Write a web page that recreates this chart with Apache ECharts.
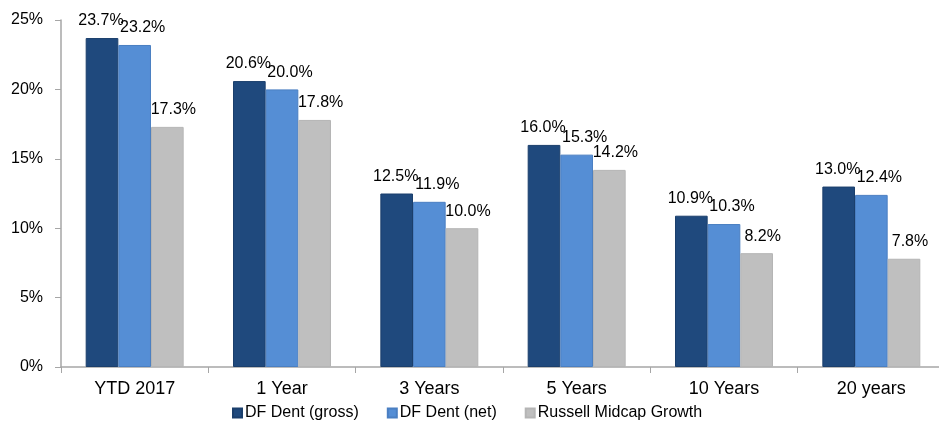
<!DOCTYPE html>
<html><head><meta charset="utf-8">
<script src="https://cdn.jsdelivr.net/npm/echarts@6/dist/echarts.min.js"></script>
<style>html,body{margin:0;padding:0;background:#fff}#c{width:939px;height:422px}</style>
</head><body><div id="c"></div>
<script>
const categories = ['YTD 2017', '1 Year', '3 Years', '5 Years', '10 Years', '20 years'];
const gross = [23.7, 20.6, 12.5, 16.0, 10.9, 13.0];
const net = [23.2, 20.0, 11.9, 15.3, 10.3, 12.4];
const russell = [17.3, 17.8, 10.0, 14.2, 8.2, 7.8];
const seriesNames = ['DF Dent (gross)', 'DF Dent (net)', 'Russell Midcap Growth'];
const yTicks = [0, 5, 10, 15, 20, 25];

const font = 'Liberation Sans, Arial, sans-serif';
const colors = ['#1F497D', '#558ED5', '#BFBFBF'];
const borders = ['#1B3F6C', '#4A7FC2', '#B5B5B5'];
const labelShift = [-1, 8, 6];
function mk(name, data, i) {
  return {
    name, type: 'bar', data, barGap: '0%', barCategoryGap: '33.5%',
    itemStyle: { color: colors[i], borderColor: borders[i], borderWidth: 1 },
    label: { show: true, position: 'top', distance: 9, offset: [labelShift[i], 0], color: '#000',
      fontFamily: font, fontSize: 16,
      formatter: p => p.value.toFixed(1) + '%' }
  };
}
const chart = echarts.init(document.getElementById('c'));
chart.setOption({
  animation: false,
  grid: { left: 61, width: 884, top: 20, bottom: 55, containLabel: false, outerBoundsMode: 'none' },
  legend: {
    left: 227, top: 400, itemWidth: 9, itemHeight: 9, itemGap: 28,
    icon: 'rect',
    textStyle: { fontFamily: font, fontSize: 16, color: '#000', padding: [0, 0, 0, -2] },
    data: seriesNames
  },
  xAxis: {
    type: 'category', data: categories,
    axisLine: { lineStyle: { color: '#A6A6A6', width: 1.5 } },
    axisTick: { show: true, length: 6, lineStyle: { color: '#A6A6A6' } },
    axisLabel: { fontFamily: font, fontSize: 18, color: '#000', margin: 13 }
  },
  yAxis: {
    type: 'value', min: yTicks[0], max: yTicks[yTicks.length - 1], interval: 5,
    splitLine: { show: false },
    axisLine: { show: true, lineStyle: { color: '#A6A6A6', width: 1.5 } },
    axisTick: { show: true, length: 6, lineStyle: { color: '#A6A6A6' } },
    axisLabel: { fontFamily: font, fontSize: 16, color: '#000', margin: 18, formatter: '{value}%' }
  },
  series: [mk(seriesNames[0], gross, 0), mk(seriesNames[1], net, 1), mk(seriesNames[2], russell, 2)]
});
</script></body></html>
